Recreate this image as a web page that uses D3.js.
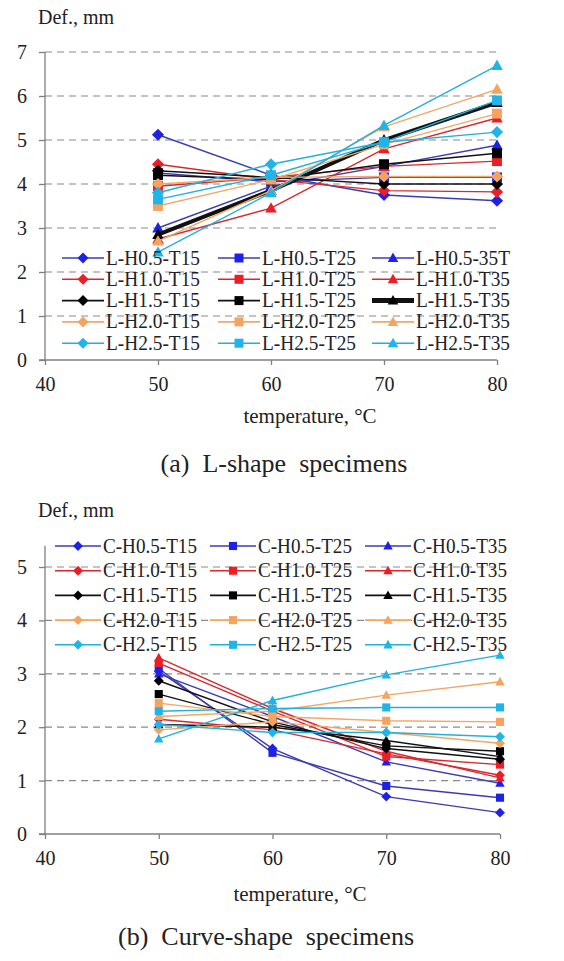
<!DOCTYPE html>
<html><head><meta charset="utf-8">
<script src="https://cdn.jsdelivr.net/npm/d3@7"></script>
<style>body{margin:0;background:#fff}svg{display:block}</style>
</head><body>
<svg id="c" width="564" height="961"></svg>
<script>
// ---- data ----
const temps = [50, 60, 70, 80];
const xTicks = [40, 50, 60, 70, 80];
const yTicksL = [0, 1, 2, 3, 4, 5, 6, 7];
const yTicksC = [0, 1, 2, 3, 4, 5];
const groups = ["H0.5", "H1.0", "H1.5", "H2.0", "H2.5"];
const thick = ["T15", "T25", "T35"];
const lNames = ["L-H0.5-T15","L-H0.5-T25","L-H0.5-35T","L-H1.0-T15","L-H1.0-T25","L-H1.0-T35","L-H1.5-T15","L-H1.5-T25","L-H1.5-T35","L-H2.0-T15","L-H2.0-T25","L-H2.0-T35","L-H2.5-T15","L-H2.5-T25","L-H2.5-T35"];
const lValues = [
  [5.12, 4.20, 3.75, 3.62],
  [4.25, 4.05, 4.15, 4.15],
  [3.00, 3.95, 4.40, 4.88],
  [4.45, 4.10, 3.85, 3.82],
  [3.95, 4.15, 4.40, 4.52],
  [2.75, 3.45, 4.80, 5.50],
  [4.30, 4.15, 4.00, 4.00],
  [4.20, 4.10, 4.45, 4.70],
  [2.85, 3.85, 5.00, 5.85],
  [4.00, 4.15, 4.17, 4.17],
  [3.50, 4.10, 4.90, 5.60],
  [2.70, 3.85, 5.30, 6.15],
  [3.80, 4.45, 4.95, 5.18],
  [3.65, 4.20, 4.95, 5.90],
  [2.45, 3.80, 5.33, 6.69]
];
const cNames = ["C-H0.5-T15","C-H0.5-T25","C-H0.5-T35","C-H1.0-T15","C-H1.0-T25","C-H1.0-T35","C-H1.5-T15","C-H1.5-T25","C-H1.5-T35","C-H2.0-T15","C-H2.0-T25","C-H2.0-T35","C-H2.5-T15","C-H2.5-T25","C-H2.5-T35"];
const cValues = [
  [3.05, 1.60, 0.70, 0.40],
  [3.10, 1.52, 0.90, 0.68],
  [3.00, 2.20, 1.35, 0.95],
  [2.15, 1.95, 1.50, 1.10],
  [3.20, 2.30, 1.45, 1.30],
  [3.30, 2.35, 1.55, 1.05],
  [2.87, 2.10, 1.60, 1.40],
  [2.62, 2.05, 1.65, 1.55],
  [2.05, 2.00, 1.75, 1.45],
  [1.95, 2.10, 1.90, 1.70],
  [2.45, 2.20, 2.12, 2.10],
  [2.20, 2.30, 2.60, 2.85],
  [2.05, 1.90, 1.90, 1.82],
  [2.30, 2.35, 2.37, 2.37],
  [1.78, 2.50, 2.98, 3.35]
];

// ---- pick an installed serif font ----
function pickSerif() {
  const cands = ["Liberation Serif", "Tinos", "Times New Roman", "Times", "DejaVu Serif", "Noto Serif", "FreeSerif"];
  const ctx = document.createElement("canvas").getContext("2d");
  const probe = "mmmmwwwiiilllQQ1234567890";
  const w = f => { ctx.font = "40px " + f; return ctx.measureText(probe).width; };
  const wm = w("monospace"), ws = w("sans-serif");
  for (const c of cands) {
    if (w(`"${c}", monospace`) !== wm || w(`"${c}", sans-serif`) !== ws) return `"${c}", serif`;
  }
  return "serif";
}
const FONT = pickSerif();

// ---- styles ----
const lineCol = {"H0.5":"#3b3cb5","H1.0":"#d8282e","H1.5":"#111111","H2.0":"#f2a766","H2.5":"#22b0dc"};
const markCol = {"H0.5":"#1f22e6","H1.0":"#ee1c24","H1.5":"#000000","H2.0":"#f5a35e","H2.5":"#1fb4ea"};

function markerPath(shape, s) {
  const h = s / 2;
  if (shape === "T15") return `M0,${-h*1.1}L${h*1.1},0L0,${h*1.1}L${-h*1.1},0Z`;
  if (shape === "T25") return `M${-h*0.9},${-h*0.9}H${h*0.9}V${h*0.9}H${-h*0.9}Z`;
  return `M0,${-h*1.1}L${h*1.05},${h*0.8}L${-h*1.05},${h*0.8}Z`;
}

const svg = d3.select("#c").attr("font-family", FONT).style("font-family", FONT);

function drawChart(cfg) {
  const g = svg.append("g");
  const x = d3.scaleLinear().domain([40, 80]).range([cfg.x0, cfg.x1]);
  const y = d3.scaleLinear().domain([0, cfg.ymaxScale]).range([cfg.y0, cfg.y0 - cfg.unit * cfg.ymaxScale]);
  g.selectAll(".grid").data(cfg.yTicks.filter(d => d > 0)).enter().append("line")
    .attr("x1", cfg.x0).attr("x2", cfg.x1).attr("y1", d => y(d)).attr("y2", d => y(d))
    .attr("stroke", "#8a8a8a").attr("stroke-width", 1.2).attr("stroke-dasharray", "7,5");
  const ya = d3.axisLeft(y).tickValues(cfg.yTicks).tickSize(6).tickPadding(12).tickFormat(d3.format("d"));
  const yg = g.append("g").attr("transform", `translate(${cfg.x0},0)`).call(ya).attr("font-family", FONT);
  yg.select(".domain").attr("d", `M-6,${cfg.y0}H0V${y(cfg.yAxisTop)}`).attr("stroke", "#808080").attr("stroke-width", 1.3);
  yg.selectAll(".tick line").attr("stroke", "#808080").attr("stroke-width", 1.3);
  yg.selectAll(".tick text").attr("font-size", 20).attr("fill", "#222");
  const xa = d3.axisBottom(x).tickValues(xTicks).tickSize(5).tickPadding(12);
  const xg = g.append("g").attr("transform", `translate(0,${cfg.y0})`).call(xa).attr("font-family", FONT);
  xg.select(".domain").attr("d", `M${cfg.x0},0H${cfg.x1}`).attr("stroke", "#808080").attr("stroke-width", 1.3);
  xg.selectAll(".tick line").attr("stroke", "#808080").attr("stroke-width", 1.3);
  xg.selectAll(".tick text").attr("font-size", 20).attr("fill", "#222");

  const line = d3.line().x((d, i) => x(temps[i])).y(d => y(d));
  const series = cfg.names.map((n, i) => ({name: n, vals: cfg.values[i], grp: groups[Math.floor(i / 3)], shp: thick[i % 3], idx: i}));
  const sg = g.selectAll(".s").data(series).enter().append("g");
  sg.append("path").attr("d", d => line(d.vals)).attr("fill", "none")
    .attr("stroke", d => lineCol[d.grp]).attr("stroke-width", d => (cfg.bold && d.idx === 8) ? 4 : 1.4);
  sg.selectAll(".m").data(d => d.vals.map((v, i) => ({v, i, s: d}))).enter().append("path")
    .attr("transform", d => `translate(${x(temps[d.i])},${y(d.v)})`)
    .attr("d", d => markerPath(d.s.shp, cfg.msize))
    .attr("fill", d => markCol[d.s.grp]);

  series.forEach((d, i) => {
    const r = Math.floor(i / 3), c = i % 3;
    const ly = cfg.legY + r * cfg.legDy;
    const lx = cfg.legX[c];
    g.append("line").attr("x1", lx).attr("x2", lx + cfg.legLen).attr("y1", ly).attr("y2", ly)
      .attr("stroke", lineCol[d.grp]).attr("stroke-width", (cfg.bold && d.idx === 8) ? 5 : 1.6);
    g.append("path").attr("transform", `translate(${lx + cfg.legLen / 2},${ly})`)
      .attr("d", markerPath(d.shp, cfg.legM)).attr("fill", markCol[d.grp]);
    g.append("text").attr("x", lx + cfg.legLen + 2).attr("y", ly + 6.5)
      .attr("font-size", cfg.legFont).attr("fill", "#222")
      .attr("textLength", cfg.legTextLen).attr("lengthAdjust", "spacingAndGlyphs")
      .text(d.name);
  });

  g.append("text").attr("x", cfg.yTitleX).attr("y", cfg.yTitleY).attr("font-size", 20).attr("fill", "#222").text("Def., mm");
  g.append("text").attr("x", cfg.xTitleX).attr("y", cfg.xTitleY).attr("text-anchor", "middle").attr("font-size", 21).attr("fill", "#222").text("temperature, \u00B0C");
  g.append("text").attr("x", cfg.capX).attr("y", cfg.capY).attr("text-anchor", "middle").attr("font-size", 26).attr("fill", "#222").attr("xml:space", "preserve").text(cfg.caption);
}

drawChart({
  names: lNames, values: lValues, yTicks: yTicksL, ymaxScale: 7, yAxisTop: 7,
  x0: 45, x1: 497, y0: 360, unit: 44, msize: 11, bold: true,
  legY: 258, legDy: 21.3, legX: [62, 218, 372], legLen: 42, legM: 10, legFont: 20, legTextLen: 94,
  yTitleX: 38, yTitleY: 24, xTitleX: 310, xTitleY: 423, capX: 284, capY: 472,
  caption: "(a)  L-shape  specimens"
});
drawChart({
  names: cNames, values: cValues, yTicks: yTicksC, ymaxScale: 5.4, yAxisTop: 5.4,
  x0: 45, x1: 500, y0: 834, unit: 53.4, msize: 9, bold: false,
  legY: 546, legDy: 24.7, legX: [55, 210, 365], legLen: 46, legM: 9, legFont: 20, legTextLen: 94,
  yTitleX: 38, yTitleY: 517, xTitleX: 300, xTitleY: 901, capX: 266, capY: 945,
  caption: "(b)  Curve-shape  specimens"
});
</script>
</body></html>
